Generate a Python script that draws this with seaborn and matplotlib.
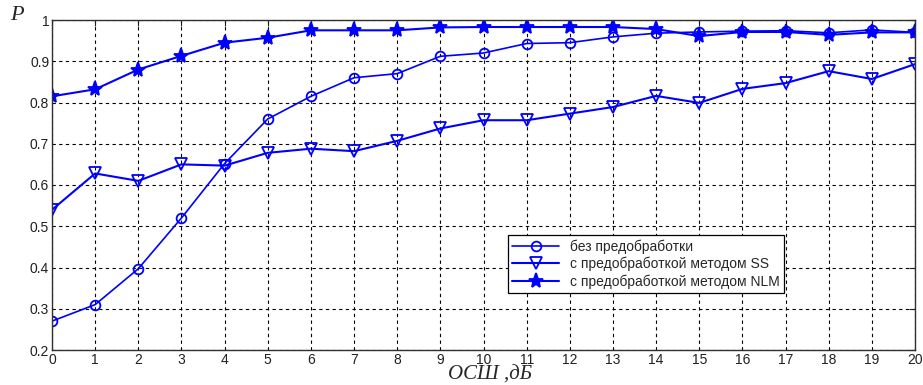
import numpy as np
import pandas as pd
import matplotlib
matplotlib.use("Agg")
import matplotlib.pyplot as plt
import seaborn as sns

# ─────────────────────────────────────────────
# DATA
# ─────────────────────────────────────────────
snr_db = list(range(0, 21))

p_raw = [0.270, 0.310, 0.397, 0.520, 0.652, 0.760, 0.815, 0.860, 0.870, 0.912, 0.920,
         0.943, 0.945, 0.959, 0.968, 0.971, 0.973, 0.974, 0.969, 0.976, 0.970]
p_ss = [0.540, 0.628, 0.610, 0.650, 0.647, 0.678, 0.688, 0.682, 0.707, 0.737, 0.757,
        0.757, 0.773, 0.789, 0.816, 0.799, 0.833, 0.847, 0.876, 0.857, 0.893]
p_nlm = [0.815, 0.832, 0.880, 0.913, 0.945, 0.957, 0.975, 0.975, 0.975, 0.982, 0.983,
         0.983, 0.983, 0.983, 0.978, 0.961, 0.971, 0.971, 0.964, 0.970, 0.970]

series_labels = ["без предобработки",
                 "с предобработкой методом SS",
                 "с предобработкой методом NLM"]
x_ticks = list(range(0, 21))
y_ticks = [0.2, 0.3, 0.4, 0.5, 0.6, 0.7, 0.8, 0.9, 1]
y_tick_labels = ["0.2", "0.3", "0.4", "0.5", "0.6", "0.7", "0.8", "0.9", "1"]

# ─────────────────────────────────────────────
# PLOT
# ─────────────────────────────────────────────
sns.set_style("white")
plt.rcParams["font.family"] = ["Liberation Sans", "DejaVu Sans"]

fig = plt.figure(figsize=(9.23, 3.85), dpi=100)
ax = fig.add_axes([52 / 923, 35 / 385, 863 / 923, 330 / 385])

blue = "#0000ff"
styles = [
    (p_raw, "o", "none", 7, 1.2),
    (p_ss, "v", "none", 9, 1.5),
    (p_nlm, "*", blue, 11, 1.5),
]
for (vals, mk, mfc, ms, lw), lab in zip(styles, series_labels):
    df = pd.DataFrame({"snr": snr_db, "p": vals})
    sns.lineplot(data=df, x="snr", y="p", ax=ax, color=blue, lw=lw,
                 marker=mk, markersize=ms, markerfacecolor=mfc,
                 markeredgecolor=blue, markeredgewidth=1.3, label=lab)

ax.set_xlim(0, 20)
ax.set_ylim(0.2, 1.0)
ax.set_xticks(x_ticks)
ax.set_yticks(y_ticks)
ax.set_yticklabels(y_tick_labels)
ax.tick_params(direction="in", length=4, labelsize=10, colors="#202020",
               top=True, right=True, pad=2)
ax.grid(True, color="black", linestyle=(0, (3, 3)), linewidth=0.8)
for sp in ax.spines.values():
    sp.set_color("#303030")
    sp.set_linewidth(1.0)

ax.set_xlabel("")
ax.set_ylabel("")
fig.text(490 / 923, 5 / 385, "ОСШ ,дБ", ha="center", va="baseline",
         family="Liberation Serif", style="italic", fontsize=15)
fig.text(10 / 923, 360 / 385, "P", ha="left", va="bottom",
         family="Liberation Serif", style="italic", fontsize=16)

leg = ax.legend(loc="upper left", bbox_to_anchor=(456 / 863, 115 / 330),
                fontsize=10, frameon=True, fancybox=False, framealpha=1,
                edgecolor="black", borderpad=0.3, labelspacing=0.22,
                handlelength=3.4, borderaxespad=0)
leg.get_frame().set_linewidth(0.9)

fig.savefig("out.png", dpi=100)
